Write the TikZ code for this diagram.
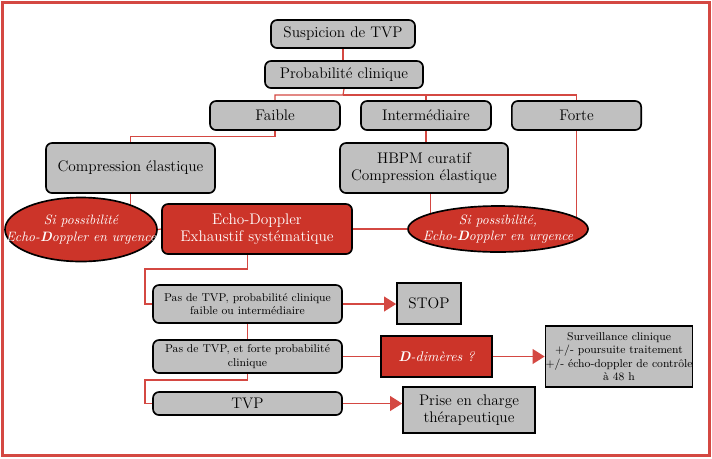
\documentclass[tikz,border=0pt]{standalone}
\usepackage{tikz}
\usepackage{xcolor}
\usetikzlibrary{shapes.geometric,arrows.meta,backgrounds}

\definecolor{boxgray}{RGB}{192,192,192}
\definecolor{boxred}{RGB}{204,52,41}
\definecolor{linkred}{RGB}{212,72,66}

\begin{document}
\begin{tikzpicture}[
  x=0.75pt, y=-0.75pt,
  font=\fontsize{11.5}{13}\selectfont,
  box/.style={draw=black, line width=1.25pt, align=center, inner sep=0pt},
  gbox/.style={box, rounded corners=4.5pt, fill=boxgray},
  rbox/.style={box, rounded corners=4.5pt, fill=boxred, text=white},
  sbox/.style={box, fill=boxgray},
  srbox/.style={box, fill=boxred, text=white},
  small/.style={font=\fontsize{8.5}{10}\selectfont},
  oval/.style={ellipse, draw=black, line width=1.25pt, fill=boxred, inner sep=0pt},
  ovaltext/.style={text=white, inner sep=0pt, align=center,
    font=\fontsize{10.2}{12.5}\selectfont\itshape},
  link/.style={draw=linkred, line width=0.9pt},
  arrow/.style={link, line width=1.2pt, -{Triangle[length=9pt,width=11pt]}}
]
\useasboundingbox (0,0) rectangle (712,458);
\draw[draw=linkred, line width=2.6pt] (2.5,2.5) rectangle (709.5,455.5);

% ------------------------------------------------------------
% top of the tree
% ------------------------------------------------------------
\node[gbox, minimum width=108pt, minimum height=21pt]     (susp)   at (343,34)    {Suspicion de TVP};
\node[gbox, minimum width=118.5pt, minimum height=20.25pt] (proba) at (344,74.5)  {Probabilité clinique};
\node[gbox, minimum width=97.5pt, minimum height=21.75pt]  (faible) at (275,115.5) {Faible};
\node[gbox, minimum width=97.5pt, minimum height=21.75pt]  (inter)  at (426,115.5) {Intermédiaire};
\node[gbox, minimum width=97pt, minimum height=21.75pt]    (forte)  at (576.5,115.5) {Forte};

\node[gbox, minimum width=126.75pt, minimum height=37.5pt] (compr) at (130.5,168) {Compression élastique};
\node[gbox, minimum width=126pt, minimum height=37.5pt]    (hbpm)  at (424,168)   {HBPM curatif\\Compression élastique};

% ------------------------------------------------------------
% echo-doppler row
% ------------------------------------------------------------
\node[oval, minimum width=114pt, minimum height=48pt] (ellL) at (81,229.5) {};
\node[ovaltext] at (ellL) {Si possibilité\\Echo-\textbf{D}oppler en urgence};
\node[rbox, minimum width=142.5pt, minimum height=37.5pt] (echo) at (257,229)
  {Echo-Doppler\\Exhaustif systématique};
\node[oval, minimum width=135pt, minimum height=34.5pt] (ellR) at (498,229) {};
\node[ovaltext] at (ellR) {Si possibilité,\\Echo-\textbf{D}oppler en urgence};

% ------------------------------------------------------------
% results
% ------------------------------------------------------------
\node[gbox, small, minimum width=141.75pt, minimum height=28.5pt] (pas1) at (247.5,304)
  {Pas de TVP, probabilité clinique\\faible ou intermédiaire};
\node[gbox, small, minimum width=141.75pt, minimum height=24.75pt] (pas2) at (247.5,356.5)
  {Pas de TVP, et forte probabilité\\clinique};
\node[gbox, minimum width=141.75pt, minimum height=17.25pt] (tvp) at (247.5,403.5) {TVP};

\node[sbox, minimum width=48pt, minimum height=30.75pt] (stop) at (429,303.5) {STOP};
\node[srbox, minimum width=83.25pt, minimum height=30.75pt,
  font=\fontsize{10.5}{12}\selectfont\itshape] (ddim) at (436.5,356.5) {\textbf{D}-dimères ?};
\node[sbox, small, minimum width=109.5pt, minimum height=45.75pt] (surv) at (619,356.5)
  {Surveillance clinique\\+/- poursuite traitement\\+/- écho-doppler de contrôle\\à 48 h};
\node[sbox, minimum width=99pt, minimum height=34.5pt] (prise) at (469,410)
  {Prise en charge\\thérapeutique};

% ------------------------------------------------------------
% connectors (behind the boxes)
% ------------------------------------------------------------
\coordinate (bus) at (343,95);
\coordinate (lc1) at (145,269);
\coordinate (lc2) at (145,380);

\begin{pgfonlayer}{background}
\draw[link] (susp.south) -- (susp.south |- proba.north);
\draw[link] (proba.south) -- (bus) -| (faible.north);
\draw[link] (bus) -| (inter.north);
\draw[link] (bus) -| (forte.north);
\draw[link] (faible.south) -- ++(0,6) -| (compr.north);
\draw[link] (inter.south) -- (inter.south |- hbpm.north);

\draw[link] (compr.south) -- (compr.south |- ellL.center);
\draw[link] (ellL.east) -- (echo.west);
\draw[link] (echo.east) -- (ellR.west);
\draw[link] ([xshift=5]hbpm.south) -- ([xshift=5]hbpm.south |- ellR.center);
\draw[link] (forte.south) -- (forte.south |- ellR.center);

\draw[link] (pas1.north |- echo.south) |- (lc1) |- (pas1.west);
\draw[link] (pas1.south) -- (pas2.north);
\draw[link] (pas2.south) |- (lc2) |- (tvp.west);
\draw[link] (pas2.east) -- (ddim.west);
\end{pgfonlayer}

\draw[arrow] (pas1.east) -- (pas1.east -| stop.west);
\draw[arrow] (ddim.east) -- (surv.west);
\draw[arrow] (tvp.east) -- (tvp.east -| prise.west);

\end{tikzpicture}
\end{document}
